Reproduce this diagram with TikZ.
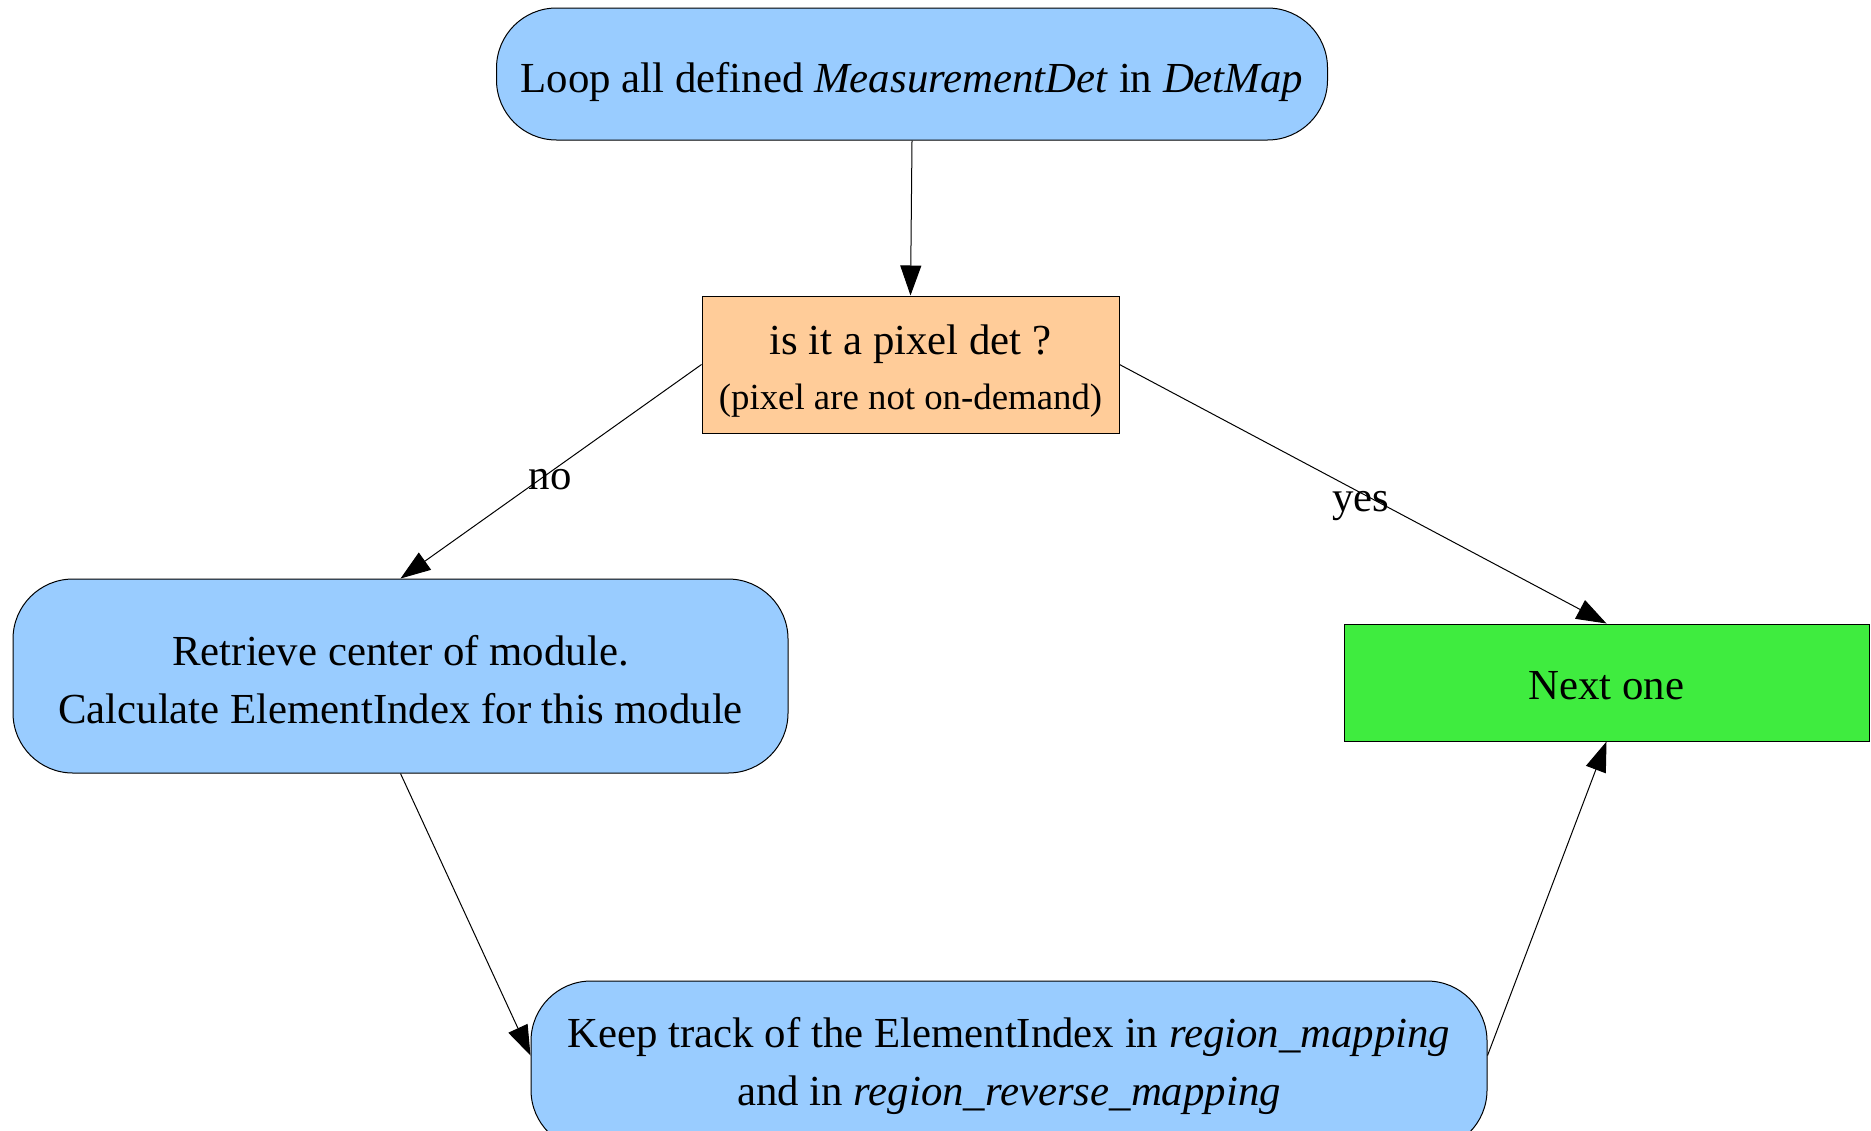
\documentclass[tikz,border=0pt]{standalone}
\usepackage{fontspec}
\setmainfont{Liberation Serif}
\usetikzlibrary{arrows.meta}
\definecolor{boxblue}{RGB}{153,204,255}
\definecolor{boxorange}{RGB}{255,204,153}
\definecolor{boxgreen}{RGB}{63,236,63}
\tikzset{
  base/.style={draw=black, line width=0.5pt, inner sep=0pt},
  roundbox/.style={base, fill=boxblue, rounded corners=30pt},
  orangebox/.style={base, fill=boxorange},
  greenbox/.style={base, fill=boxgreen},
  txt/.style={inner sep=0pt, align=center, font=\fontsize{21.4}{29}\selectfont},
  conn/.style={line width=0.5pt, -{Triangle[length=15pt,width=10.5pt]}},
  lbl/.style={font=\fontsize{21.4}{25}\selectfont, inner sep=0pt}
}
\begin{document}
\begin{tikzpicture}[x=0.5pt,y=-0.5pt]
\useasboundingbox (0,0) rectangle (1871,1130);
\clip (0,0) rectangle (1871,1130);
\node[roundbox, minimum width=415.5pt, minimum height=66pt] (top) at (912,74) {};
\node[txt] (toptext) at ([yshift=-4pt]top.center)
  {Loop all defined \textit{MeasurementDet} in \textit{DetMap}};
\node[orangebox, minimum width=208.5pt, minimum height=68.5pt] (pixel) at (910.5,364.5) {};
\node[txt] (pixeltext) at ([yshift=-3.5pt]pixel.center)
  {is it a pixel det ?\\[-1.5pt]{\fontsize{18.4}{22}\selectfont (pixel are not on-demand)}};
\node[roundbox, minimum width=387.5pt, minimum height=97pt] (left) at (400.5,676) {};
\node[txt] (lefttext) at ([yshift=-1.8pt]left.center)
  {Retrieve center of module.\\Calculate ElementIndex for this module};
\node[greenbox, minimum width=262.5pt, minimum height=58.5pt] (next) at (1606.5,682.5) {};
\node[txt] (nexttext) at ([yshift=-1.8pt]next.center) {Next one};
\node[roundbox, minimum width=478pt, minimum height=84.5pt] (bottom) at (1009,1065.5) {};
\node[txt] (bottomtext) at (bottom.center)
  {Keep track of the ElementIndex in \textit{region\_mapping}\\and in \textit{region\_reverse\_mapping}};
\draw[conn] (top.south) -- (pixel.north);
\draw[conn] (pixel.west) -- (left.north);
\draw[conn] (pixel.east) -- (next.north);
\draw[conn] (left.south) -- ([yshift=5pt]bottom.west);
\draw[conn] ([yshift=5pt]bottom.east) -- (next.south);
\node[lbl] (no) at (550,480) {no};
\node[lbl] (yes) at (1361,506) {yes};
\end{tikzpicture}
\end{document}
